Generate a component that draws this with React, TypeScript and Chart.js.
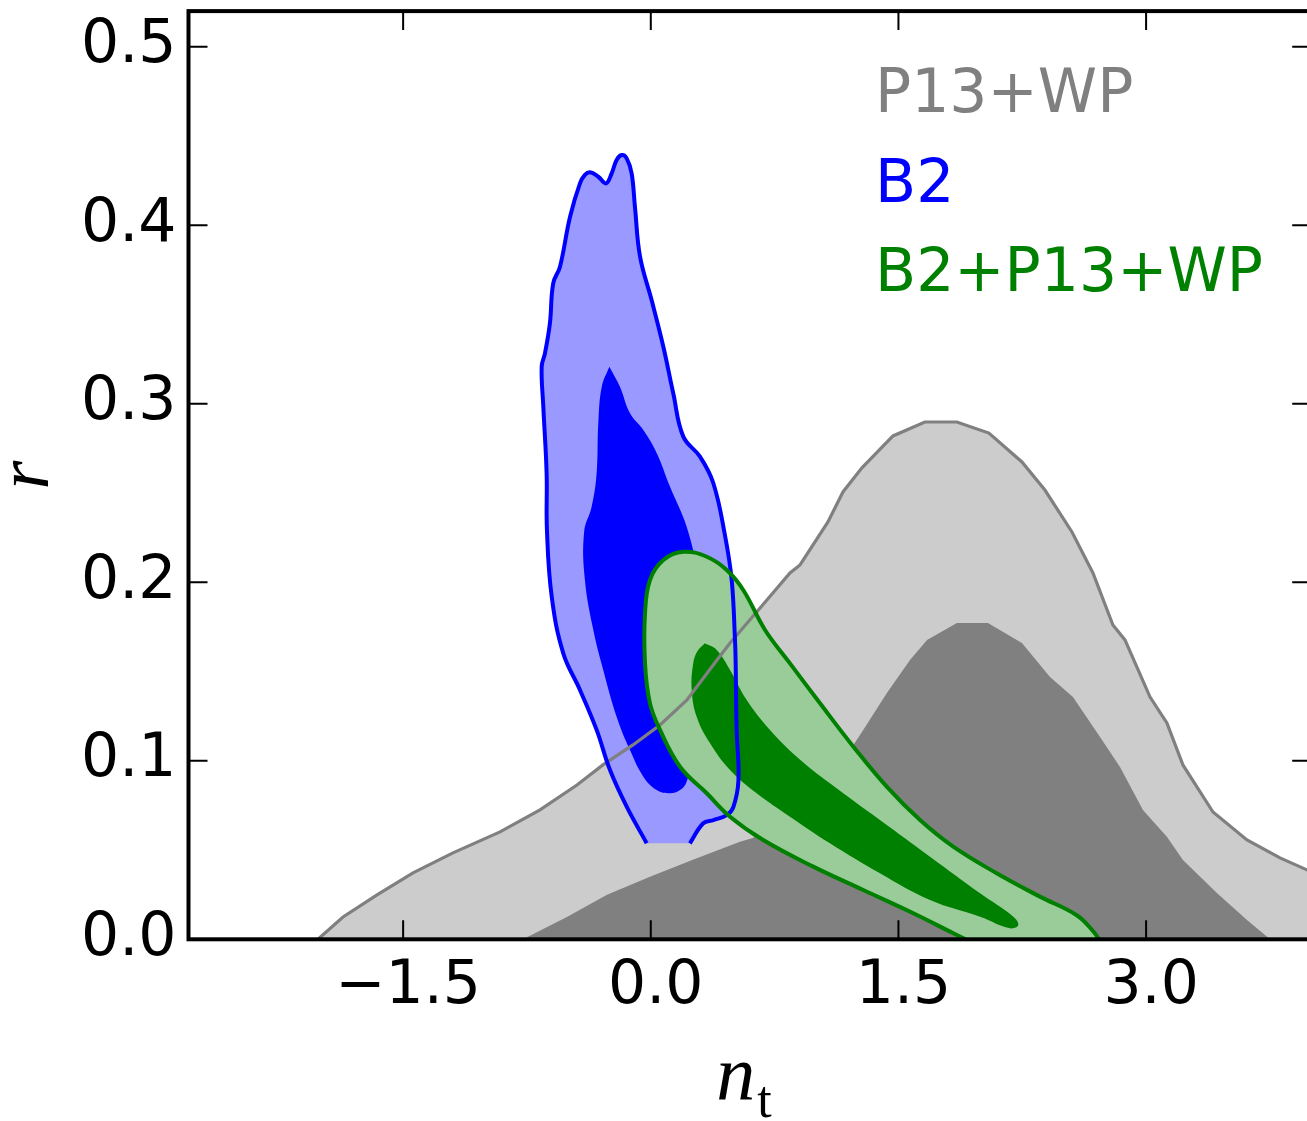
import React, { useEffect, useRef } from "react";
import { Chart, registerables } from "chart.js";

Chart.register(...registerables);

type Pt = [number, number];

// ---- axes ----
const X_MIN = -2.8;
const X_MAX = 4.0;
const Y_MIN = 0;
const Y_MAX = 0.52;
const xTickValues = [-1.5, 0, 1.5, 3.0];
const xTickLabels = ["\u22121.5", "0.0", "1.5", "3.0"];
const yTickValues = [0, 0.1, 0.2, 0.3, 0.4, 0.5];
const yTickLabels = ["0.0", "0.1", "0.2", "0.3", "0.4", "0.5"];

// ---- legend ----
const legendLabels = ["P13+WP", "B2", "B2+P13+WP"];
const legendColors = ["#808080", "#0000ff", "#008000"];

// ---- contours (n_t, r) ----
// P13+WP, outer contour (drawn with line)
const p13Outer: Pt[] = [
  [-2.016, 0], [-1.864, 0.0125], [-1.658, 0.0249], [-1.44, 0.0372], [-1.198, 0.0484],
  [-0.913, 0.0602], [-0.671, 0.0725], [-0.447, 0.0864], [-0.29, 0.0977], [-0.108, 0.1089],
  [0.056, 0.1201], [0.219, 0.1341], [0.401, 0.1565], [0.48, 0.166], [0.662, 0.1856],
  [0.843, 0.2052], [0.904, 0.2097], [1.073, 0.2338], [1.164, 0.2506], [1.279, 0.2641],
  [1.467, 0.282], [1.66, 0.2898], [1.854, 0.2898], [2.048, 0.2836], [2.248, 0.2674],
  [2.387, 0.2517], [2.551, 0.2282], [2.678, 0.2052], [2.799, 0.1761], [2.872, 0.1677],
  [3.024, 0.1357], [3.126, 0.1212], [3.223, 0.0977], [3.405, 0.0713], [3.611, 0.0557],
  [3.811, 0.0456], [3.974, 0.0389], [4.1, 0.034], [4.1, 0],
];
// P13+WP, inner contour
const p13Inner: Pt[] = [
  [-0.774, 0], [-0.508, 0.0125], [-0.265, 0.0249], [-0.005, 0.035], [0.255, 0.0445],
  [0.54, 0.0546], [0.618, 0.0568], [0.904, 0.0745], [1.086, 0.0893], [1.219, 0.1078],
  [1.279, 0.1162], [1.43, 0.138], [1.57, 0.1565], [1.673, 0.1677], [1.854, 0.1772],
  [2.042, 0.1772], [2.248, 0.166], [2.418, 0.1469], [2.557, 0.1357], [2.721, 0.1133],
  [2.842, 0.0965], [2.981, 0.0724], [3.127, 0.0573], [3.223, 0.0444], [3.429, 0.0259],
  [3.611, 0.0108], [3.751, 0],
];
// B2, outer contour (open at the bottom)
const b2Outer: Pt[] = [
  [-0.025, 0.0538], [-0.146, 0.0743], [-0.247, 0.0948], [-0.328, 0.1173], [-0.429, 0.1397],
  [-0.53, 0.1602], [-0.6, 0.1919], [-0.629, 0.2293], [-0.631, 0.2611], [-0.651, 0.2984],
  [-0.661, 0.3208], [-0.641, 0.3283], [-0.611, 0.3451], [-0.591, 0.3675], [-0.55, 0.3768],
  [-0.489, 0.4048], [-0.429, 0.4235], [-0.399, 0.4282], [-0.368, 0.4297], [-0.318, 0.4272],
  [-0.271, 0.4235], [-0.237, 0.4291], [-0.207, 0.4366], [-0.176, 0.4394], [-0.146, 0.4375],
  [-0.116, 0.4291], [-0.096, 0.4104], [-0.065, 0.3824], [0.005, 0.3581], [0.076, 0.332],
  [0.136, 0.3059], [0.197, 0.2816], [0.298, 0.2704], [0.379, 0.2555], [0.449, 0.2265],
  [0.49, 0.2013], [0.51, 0.1677], [0.514, 0.1546], [0.52, 0.1173], [0.531, 0.0892],
  [0.5, 0.0741], [0.46, 0.0696], [0.379, 0.0668], [0.318, 0.065], [0.237, 0.0538],
];
// B2, inner contour
const b2Inner: Pt[] = [
  [-0.251, 0.3208], [-0.187, 0.3096], [-0.126, 0.2947], [-0.045, 0.2853], [0.036, 0.2723],
  [0.116, 0.2536], [0.217, 0.2311], [0.28, 0.2069], [0.322, 0.1789], [0.328, 0.1453],
  [0.286, 0.1117], [0.217, 0.0883], [0.177, 0.0836], [0.116, 0.0818], [0.036, 0.0836],
  [-0.045, 0.0911], [-0.126, 0.106], [-0.207, 0.1247], [-0.288, 0.1509], [-0.348, 0.1733],
  [-0.399, 0.2013], [-0.404, 0.2281], [-0.358, 0.2424], [-0.328, 0.2611], [-0.318, 0.2891],
  [-0.297, 0.3096], [-0.251, 0.3208],
];
// B2+P13+WP, outer contour
const combOuter: Pt[] = [
  [1.906, 0], [1.832, 0.0034], [1.59, 0.0146], [1.287, 0.0276], [0.984, 0.0407],
  [0.681, 0.0556], [0.48, 0.0687], [0.339, 0.0818], [0.177, 0.0967], [0.056, 0.1173],
  [-0.005, 0.1322], [-0.035, 0.1546], [-0.035, 0.1826], [-0.005, 0.2013], [0.076, 0.2125],
  [0.197, 0.2171], [0.339, 0.2143], [0.46, 0.2069], [0.56, 0.1957], [0.692, 0.1733],
  [0.843, 0.1546], [1.025, 0.1322], [1.227, 0.1079], [1.429, 0.0855], [1.631, 0.0668],
  [1.832, 0.0519], [2.095, 0.037], [2.357, 0.0239], [2.58, 0.0135], [2.68, 0.0045],
  [2.715, 0],
];
// B2+P13+WP, inner contour
const combInner: Pt[] = [
  [0.328, 0.1658], [0.399, 0.1621], [0.48, 0.1509], [0.581, 0.1341], [0.722, 0.1173],
  [0.884, 0.1023], [1.085, 0.0874], [1.388, 0.0668], [1.691, 0.0463], [1.994, 0.0258],
  [2.196, 0.0127], [2.226, 0.008], [2.176, 0.0062], [1.994, 0.0127], [1.691, 0.022],
  [1.388, 0.037], [1.085, 0.0538], [0.843, 0.0687], [0.641, 0.0818], [0.48, 0.0948],
  [0.359, 0.1098], [0.278, 0.1247], [0.248, 0.1397], [0.257, 0.1546], [0.283, 0.1615],
  [0.328, 0.1658],
];

const toXY = (pts: Pt[]) => pts.map(([x, y]) => ({ x, y }));

const fillDs = (label: string, pts: Pt[], color: string, order: number, tension: number) => ({
  label,
  data: toXY(pts),
  showLine: true,
  fill: "shape",
  backgroundColor: color,
  borderColor: "rgba(0,0,0,0)",
  borderWidth: 0,
  pointRadius: 0,
  tension,
  order,
});

const lineDs = (label: string, pts: Pt[], color: string, order: number, tension: number, width: number) => ({
  label,
  data: toXY(pts),
  showLine: true,
  fill: false,
  backgroundColor: color,
  borderColor: color,
  borderWidth: width,
  pointRadius: 0,
  tension,
  order,
});

const FONT = '"DejaVu Sans", "Liberation Sans", sans-serif';

const framePlugin = {
  id: "frame",
  afterDatasetsDraw(chart: any) {
    const { ctx, chartArea: a, scales } = chart;
    const xs = scales.x;
    const ys = scales.y;
    const L = 19;
    ctx.save();
    ctx.strokeStyle = "#000";
    ctx.lineWidth = 2;
    ctx.beginPath();
    xs.ticks.forEach((t: any) => {
      const px = xs.getPixelForValue(t.value);
      ctx.moveTo(px, a.bottom);
      ctx.lineTo(px, a.bottom - L);
      ctx.moveTo(px, a.top);
      ctx.lineTo(px, a.top + L);
    });
    ys.ticks.forEach((t: any) => {
      const py = ys.getPixelForValue(t.value);
      ctx.moveTo(a.left, py);
      ctx.lineTo(a.left + L, py);
      ctx.moveTo(a.right, py);
      ctx.lineTo(a.right - L, py);
    });
    ctx.stroke();
    ctx.lineWidth = 4;
    ctx.strokeRect(a.left, a.top, a.right - a.left, a.bottom - a.top);
    ctx.restore();
  },
};

const textPlugin = {
  id: "texts",
  afterDraw(chart: any) {
    const { ctx, chartArea: a } = chart;
    ctx.save();
    ctx.textBaseline = "alphabetic";
    ctx.textAlign = "left";
    ctx.font = `60px ${FONT}`;
    legendLabels.forEach((t, i) => {
      ctx.fillStyle = legendColors[i];
      ctx.fillText(t, 875, 112 + i * 89.5);
    });
    ctx.fillStyle = "#000";
    // y title
    ctx.save();
    ctx.translate(48, (a.top + a.bottom) / 2);
    ctx.rotate(-Math.PI / 2);
    ctx.textAlign = "center";
    ctx.font = 'italic 74px "Liberation Serif", "DejaVu Serif", serif';
    ctx.fillText("r", 0, 0);
    ctx.restore();
    // x title n_t
    ctx.font = 'italic 78px "Liberation Serif", "DejaVu Serif", serif';
    const wn = ctx.measureText("n").width;
    ctx.font = '52px "Liberation Serif", "DejaVu Serif", serif';
    const wt = ctx.measureText("t").width;
    const cx = (a.left + a.right) / 2 - 6;
    const x0 = cx - (wn + wt + 2) / 2;
    ctx.font = 'italic 78px "Liberation Serif", "DejaVu Serif", serif';
    ctx.fillText("n", x0, 1100);
    ctx.font = '52px "Liberation Serif", "DejaVu Serif", serif';
    ctx.fillText("t", x0 + wn + 2, 1117);
    ctx.restore();
  },
};

const zeroPad = (s: any) => {
  s.paddingTop = 0;
  s.paddingBottom = 0;
  s.paddingLeft = 0;
  s.paddingRight = 0;
};

export default function App() {
  const ref = useRef<HTMLCanvasElement | null>(null);

  useEffect(() => {
    if (!ref.current) return;
    const chart = new Chart(ref.current, {
      type: "scatter",
      data: {
        datasets: [
          lineDs("B2+P13+WP line", combOuter, "#008000", 0, 0.4, 4) as any,
          lineDs("B2 line", b2Outer, "#0000ff", 1, 0.4, 4) as any,
          lineDs("P13+WP line", p13Outer.slice(0, p13Outer.length - 1), "#808080", 2, 0, 3.2) as any,
          fillDs("B2+P13+WP 68%", combInner, "#008000", 3, 0.4) as any,
          fillDs("B2+P13+WP 95%", combOuter, "#99cc99", 4, 0.4) as any,
          fillDs("B2 68%", b2Inner, "#0000ff", 5, 0.4) as any,
          fillDs("B2 95%", b2Outer, "#9999ff", 6, 0.4) as any,
          fillDs("P13+WP 68%", p13Inner, "#808080", 7, 0) as any,
          fillDs("P13+WP 95%", p13Outer, "#cccccc", 8, 0) as any,
        ],
      },
      options: {
        animation: false,
        responsive: false,
        devicePixelRatio: 1,
        events: [],
        layout: { padding: { top: 11.1, right: 18.8, left: 0, bottom: 0 } },
        plugins: { legend: { display: false }, tooltip: { enabled: false } },
        scales: {
          x: {
            type: "linear",
            min: X_MIN,
            max: X_MAX,
            afterBuildTicks: (s: any) => {
              s.ticks = xTickValues.map((v) => ({ value: v }));
            },
            afterFit: (s: any) => {
              s.height = 1121 - 939.3;
              zeroPad(s);
            },
            grid: { display: false, drawTicks: false },
            border: { display: false },
            ticks: {
              autoSkip: false,
              maxRotation: 0,
              padding: 18,
              labelOffset: 5,
              color: "#000",
              font: { family: FONT, size: 60, lineHeight: 1 },
              callback: (v: any) => xTickLabels[xTickValues.indexOf(Number(v))],
            },
          },
          y: {
            type: "linear",
            min: Y_MIN,
            max: Y_MAX,
            afterBuildTicks: (s: any) => {
              s.ticks = yTickValues.map((v) => ({ value: v }));
            },
            afterFit: (s: any) => {
              s.width = 188.5;
              zeroPad(s);
            },
            grid: { display: false, drawTicks: false },
            border: { display: false },
            ticks: {
              autoSkip: false,
              padding: 12,
              color: "#000",
              font: { family: FONT, size: 60, lineHeight: 1 },
              callback: (v: any) => yTickLabels[yTickValues.indexOf(Number(v))],
            },
          },
        },
      } as any,
      plugins: [framePlugin, textPlugin],
    });
    return () => chart.destroy();
  }, []);

  return (
    <div
      style={{
        position: "fixed",
        left: 0,
        top: 0,
        width: 1307,
        height: 1121,
        overflow: "hidden",
        background: "#fff",
      }}
    >
      <canvas ref={ref} width={1330} height={1121} style={{ display: "block", width: 1330, height: 1121 }} />
    </div>
  );
}
